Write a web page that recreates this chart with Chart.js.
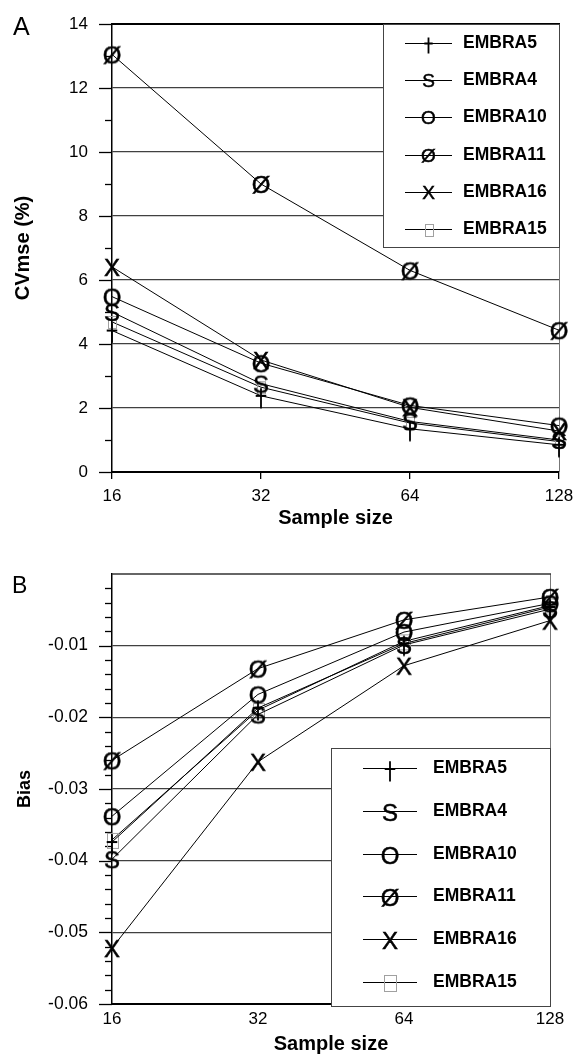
<!DOCTYPE html>
<html>
<head>
<meta charset="utf-8">
<script src="https://cdn.jsdelivr.net/npm/chart.js@4.4.1/dist/chart.umd.min.js"></script>
<style>
  html, body { margin: 0; padding: 0; background: #fff; }
  #wrap { position: relative; width: 578px; height: 1060px; }
  .panel { position: absolute; left: 0; width: 578px; }
  #panelA { top: 0; height: 540px; }
  #panelB { top: 540px; height: 520px; }
</style>
</head>
<body>
<div id="wrap">
  <div class="panel" id="panelA"><canvas id="chartA"></canvas></div>
  <div class="panel" id="panelB"><canvas id="chartB"></canvas></div>
</div>
<script>
// --- data ---
const sampleSizes = ['16', '32', '64', '128'];
const seriesNames = ['EMBRA5', 'EMBRA4', 'EMBRA10', 'EMBRA11', 'EMBRA16', 'EMBRA15'];

// panel A: CVmse (%)
const cvEmbra5 = [4.42, 2.38, 1.35, 0.85];
const cvEmbra4 = [5.0, 2.76, 1.58, 1.0];
const cvEmbra10 = [5.48, 3.4, 2.08, 1.45];
const cvEmbra11 = [13.05, 9.0, 6.3, 4.43];
const cvEmbra16 = [6.41, 3.5, 2.02, 1.28];
const cvEmbra15 = [4.69, 2.65, 1.53, 0.95];
const cvTickLabels = [0, 2, 4, 6, 8, 10, 12, 14];

// panel B: Bias
const biasEmbra5 = [-0.0374, -0.0187, -0.0097, -0.0046];
const biasEmbra4 = [-0.0398, -0.0196, -0.0099, -0.0049];
const biasEmbra10 = [-0.0338, -0.0168, -0.0081, -0.0041];
const biasEmbra11 = [-0.026, -0.0132, -0.0064, -0.0032];
const biasEmbra16 = [-0.0522, -0.0262, -0.0128, -0.0065];
const biasEmbra15 = [-0.0371, -0.019, -0.0094, -0.0044];
const biasTickLabels = [-0.06, -0.05, -0.04, -0.03, -0.02, -0.01];

const markerKinds = ['dagger', 'S', 'O', '\u00D8', 'X', 'box'];
const FONT = '"Liberation Sans", Arial, sans-serif';

Chart.defaults.font.family = FONT;
Chart.defaults.color = '#000';

// glyph-like point markers drawn into small canvases
function makeMarker(kind, size, boxW, boxH) {
  const c = document.createElement('canvas');
  const w = Math.ceil(size * 1.3);
  const h = Math.ceil(size * 1.4);
  c.width = w;
  c.height = h;
  const g = c.getContext('2d');
  const cx = w / 2;
  const cy = h / 2;
  g.strokeStyle = '#000';
  g.fillStyle = '#000';
  if (kind === 'dagger') {
    g.lineWidth = 1.8;
    g.beginPath();
    g.moveTo(cx, cy - 0.32 * size);
    g.lineTo(cx, cy + 0.52 * size);
    g.moveTo(cx - 0.22 * size, cy);
    g.lineTo(cx + 0.22 * size, cy);
    g.stroke();
  } else if (kind === 'box') {
    g.strokeStyle = '#a0a0a0';
    g.lineWidth = 1;
    g.strokeRect(Math.round(cx - boxW / 2) + 0.5, Math.round(cy - boxH / 2) + 0.5, boxW, boxH);
  } else {
    g.font = size + 'px ' + FONT;
    g.textAlign = 'center';
    g.textBaseline = 'alphabetic';
    g.lineWidth = 0.5;
    g.fillText(kind, cx, cy + 0.358 * size);
    g.strokeText(kind, cx, cy + 0.358 * size);
  }
  return c;
}

function buildDatasets(seriesValues, markers) {
  return seriesValues.map((values, i) => ({
    label: seriesNames[i],
    data: values,
    borderColor: '#000',
    borderWidth: 1,
    tension: 0,
    fill: false,
    clip: false,
    pointStyle: markers[i],
    pointRadius: 6
  }));
}

// keep the plot area where the layout padding puts it
function fixWidth(w) {
  return (s) => { s.width = w; s.paddingTop = 0; s.paddingBottom = 0; };
}
function fixHeight(h) {
  return (s) => { s.height = h; s.paddingLeft = 0; s.paddingRight = 0; };
}

// frame, minor/major ticks, panel letter and boxed legend
function decorPlugin(cfg) {
  return {
    id: 'decor',
    beforeDatasetsDraw(chart) {
      const ctx = chart.ctx;
      const a = chart.chartArea;
      const y = chart.scales.y;
      ctx.save();
      ctx.strokeStyle = '#000';
      ctx.lineWidth = 1.3;
      y.ticks.forEach((t) => {
        if (cfg.skipTop && Math.abs(t.value - y.max) < 1e-9) return;
        const py = Math.round(y.getPixelForValue(t.value)) + 0.5;
        const len = cfg.isMajor(t.value) ? 13 : 7;
        ctx.beginPath();
        ctx.moveTo(a.left - len, py);
        ctx.lineTo(a.left, py);
        ctx.stroke();
      });
      // right edge
      ctx.strokeStyle = '#777';
      ctx.lineWidth = 1;
      ctx.beginPath();
      ctx.moveTo(a.right + 0.5, a.top);
      ctx.lineTo(a.right + 0.5, a.bottom);
      ctx.stroke();
      // top edge
      ctx.strokeStyle = cfg.topColor;
      ctx.lineWidth = cfg.topWidth;
      ctx.beginPath();
      ctx.moveTo(a.left, a.top);
      ctx.lineTo(a.right + 1, a.top);
      ctx.stroke();
      ctx.restore();
    },
    afterDraw(chart) {
      const ctx = chart.ctx;
      const L = cfg.legend;
      ctx.save();
      // panel letter
      ctx.fillStyle = '#000';
      ctx.font = cfg.letterSize + 'px ' + FONT;
      ctx.textAlign = 'left';
      ctx.textBaseline = 'alphabetic';
      ctx.fillText(cfg.letter, cfg.letterX, cfg.letterY);
      // legend box
      ctx.fillStyle = '#fff';
      ctx.fillRect(L.x0, L.y0, L.x1 - L.x0, L.y1 - L.y0);
      ctx.strokeStyle = '#444';
      ctx.lineWidth = 1;
      ctx.strokeRect(L.x0 + 0.5, L.y0 + 0.5, L.x1 - L.x0, L.y1 - L.y0);
      chart.data.datasets.forEach((ds, i) => {
        const ry = Math.round(L.rowY0 + i * L.rowStep) + 0.5;
        ctx.strokeStyle = '#000';
        ctx.lineWidth = 1;
        ctx.beginPath();
        ctx.moveTo(L.lineX0, ry);
        ctx.lineTo(L.lineX1, ry);
        ctx.stroke();
        const m = L.markers[i];
        ctx.drawImage(m, Math.round(L.markX - m.width / 2), Math.round(ry - m.height / 2));
        ctx.fillStyle = '#000';
        ctx.font = 'bold ' + L.fontSize + 'px ' + FONT;
        ctx.textBaseline = 'middle';
        ctx.fillText(ds.label, L.textX, ry);
      });
      ctx.restore();
    }
  };
}

// ---------- panel A ----------
const markersA = markerKinds.map((k) => makeMarker(k, 24, 8, 12));
const legendMarkersA = markerKinds.map((k) => makeMarker(k, 19, 8, 12));

new Chart(document.getElementById('chartA'), {
  type: 'line',
  data: {
    labels: sampleSizes,
    datasets: buildDatasets([cvEmbra5, cvEmbra4, cvEmbra10, cvEmbra11, cvEmbra16, cvEmbra15], markersA)
  },
  options: {
    responsive: true,
    maintainAspectRatio: false,
    animation: false,
    layout: { padding: { top: 24, right: 19, left: 0, bottom: 0 } },
    plugins: { legend: { display: false }, tooltip: { enabled: false } },
    scales: {
      x: {
        type: 'category',
        offset: false,
        afterFit: fixHeight(68),
        grid: { drawOnChartArea: false, drawTicks: true, tickLength: 7, color: '#000', lineWidth: 1.3 },
        border: { color: '#000', width: 2 },
        ticks: { padding: 7, font: { size: 17 }, maxRotation: 0 },
        title: { display: true, text: 'Sample size', font: { size: 20, weight: 'bold' }, padding: { top: 0, bottom: 10 } }
      },
      y: {
        min: 0,
        max: 14,
        afterFit: fixWidth(112),
        grid: {
          drawTicks: false,
          lineWidth: 1.2,
          color: (c) => (c.tick && c.tick.value > 0 && c.tick.value < 14 && c.tick.value % 2 === 0) ? '#404040' : 'rgba(0,0,0,0)'
        },
        border: { color: '#000', width: 1.5 },
        ticks: {
          stepSize: 1,
          autoSkip: false,
          padding: 24,
          font: { size: 17 },
          callback: (v) => (cvTickLabels.includes(v) ? String(v) : '')
        },
        title: { display: true, text: 'CVmse (%)', font: { size: 20, weight: 'bold' }, padding: { top: 11, bottom: 0 } }
      }
    }
  },
  plugins: [decorPlugin({
    isMajor: (v) => v % 2 === 0,
    skipTop: false,
    topColor: '#000',
    topWidth: 2,
    letter: 'A',
    letterSize: 25,
    letterX: 13,
    letterY: 35,
    legend: {
      x0: 383, y0: 24, x1: 559, y1: 247,
      rowY0: 43, rowStep: 37.2,
      lineX0: 405, lineX1: 452, markX: 428, textX: 463,
      fontSize: 17.5,
      markers: legendMarkersA
    }
  })]
});

// ---------- panel B ----------
const markersB = markerKinds.map((k) => makeMarker(k, 24, 11, 15));
const legendMarkersB = markerKinds.map((k) => makeMarker(k, 24, 12, 16));
const biasMajor = (v) => Math.abs(Math.round(v * 1000)) % 10 === 0;

new Chart(document.getElementById('chartB'), {
  type: 'line',
  data: {
    labels: sampleSizes,
    datasets: buildDatasets([biasEmbra5, biasEmbra4, biasEmbra10, biasEmbra11, biasEmbra16, biasEmbra15], markersB)
  },
  options: {
    responsive: true,
    maintainAspectRatio: false,
    animation: false,
    layout: { padding: { top: 34, right: 28, left: 0, bottom: 0 } },
    plugins: { legend: { display: false }, tooltip: { enabled: false } },
    scales: {
      x: {
        type: 'category',
        offset: false,
        afterFit: fixHeight(56),
        grid: { display: false, drawTicks: false },
        border: { color: '#000', width: 2 },
        ticks: { padding: 5, font: { size: 17 }, maxRotation: 0 },
        title: { display: true, text: 'Sample size', font: { size: 20, weight: 'bold' }, padding: { top: 0, bottom: 4 } }
      },
      y: {
        min: -0.06,
        max: 0,
        afterFit: fixWidth(112),
        grid: {
          drawTicks: false,
          lineWidth: 1.2,
          color: (c) => (c.tick && biasMajor(c.tick.value) && c.tick.value > -0.0595 && c.tick.value < -0.0005) ? '#404040' : 'rgba(0,0,0,0)'
        },
        border: { color: '#000', width: 1.5 },
        ticks: {
          stepSize: 0.002,
          autoSkip: false,
          padding: 24,
          font: { size: 17.5 },
          callback: (v) => {
            const r = Math.round(v * 100) / 100;
            return biasMajor(v) && biasTickLabels.includes(r) ? r.toFixed(2) : '';
          }
        },
        title: { display: true, text: 'Bias', font: { size: 18, weight: 'bold' }, padding: { top: 14, bottom: 0 } }
      }
    }
  },
  plugins: [decorPlugin({
    isMajor: biasMajor,
    skipTop: true,
    topColor: '#333',
    topWidth: 1.5,
    letter: 'B',
    letterSize: 23,
    letterX: 12,
    letterY: 53,
    legend: {
      x0: 331, y0: 208, x1: 550, y1: 466,
      rowY0: 228, rowStep: 42.8,
      lineX0: 363, lineX1: 417, markX: 390, textX: 433,
      fontSize: 17.5,
      markers: legendMarkersB
    }
  })]
});
</script>
</body>
</html>
